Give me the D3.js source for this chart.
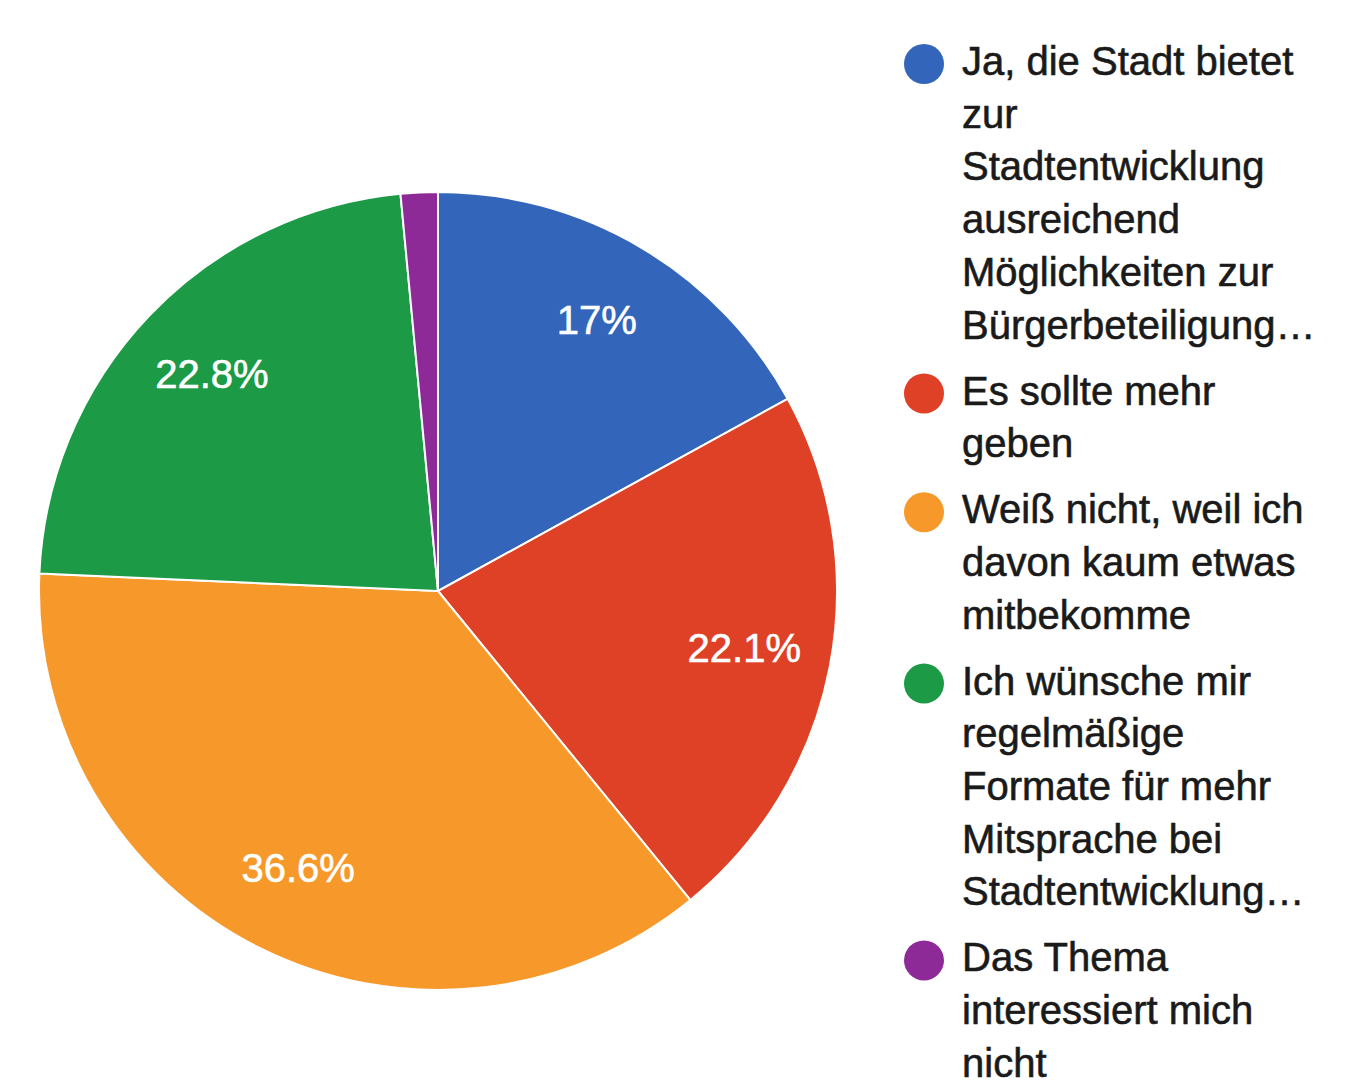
<!DOCTYPE html>
<html>
<head>
<meta charset="utf-8">
<script src="https://cdn.jsdelivr.net/npm/d3@7"></script>
<style>
  html, body { margin: 0; padding: 0; background: #ffffff; }
  svg { display: block; }
  text { font-family: "Liberation Sans", Arial, Helvetica, sans-serif; }
</style>
</head>
<body>
<svg id="chart" width="1359" height="1080"></svg>
<script>
// ---- data ----
const categories = [
  "Ja, die Stadt bietet zur Stadtentwicklung ausreichend Möglichkeiten zur Bürgerbeteiligung…",
  "Es sollte mehr geben",
  "Weiß nicht, weil ich davon kaum etwas mitbekomme",
  "Ich wünsche mir regelmäßige Formate für mehr Mitsprache bei Stadtentwicklung…",
  "Das Thema interessiert mich nicht"
];
const values = [17.0, 22.1, 36.6, 22.8, 1.5];
const sliceLabels = ["17%", "22.1%", "36.6%", "22.8%", ""];
const legendLines = [
  ["Ja, die Stadt bietet", "zur", "Stadtentwicklung", "ausreichend", "Möglichkeiten zur", "Bürgerbeteiligung…"],
  ["Es sollte mehr", "geben"],
  ["Weiß nicht, weil ich", "davon kaum etwas", "mitbekomme"],
  ["Ich wünsche mir", "regelmäßige", "Formate für mehr", "Mitsprache bei", "Stadtentwicklung…"],
  ["Das Thema", "interessiert mich", "nicht"]
];
const colors = ["#3366bb", "#de4125", "#f7982a", "#1c9a45", "#8e2a98"];

// ---- layout ----
const svg = d3.select("#chart");
const cx = 438, cy = 591, R = 399;

const pie = d3.pie().sort(null).value(d => d.value);
const arcs = pie(values.map((v, i) => ({ value: v, i })));
const arc = d3.arc().innerRadius(0).outerRadius(R);
const labelArc = d3.arc().innerRadius(312).outerRadius(312);

const g = svg.append("g").attr("transform", `translate(${cx},${cy})`);
g.selectAll("path.slice")
  .data(arcs)
  .join("path")
  .attr("class", "slice")
  .attr("d", arc)
  .attr("fill", d => colors[d.data.i])
  .attr("stroke", "#ffffff")
  .attr("stroke-width", 2);

g.selectAll("text.lbl")
  .data(arcs)
  .join("text")
  .attr("class", "lbl")
  .attr("transform", d => `translate(${labelArc.centroid(d)})`)
  .attr("text-anchor", "middle")
  .attr("dy", "0.3em")
  .attr("fill", "#ffffff")
  .attr("stroke", "#ffffff")
  .attr("stroke-width", 0.6)
  .attr("font-size", 40)
  .text(d => sliceLabels[d.data.i]);

// ---- legend ----
const lineH = 52.7, itemGap = 66;
const legend = svg.append("g");
let y = 75;
categories.forEach((c, i) => {
  const item = legend.append("g");
  item.append("circle")
    .attr("cx", 924).attr("cy", y - 11).attr("r", 20)
    .attr("fill", colors[i]);
  const t = item.append("text")
    .attr("x", 962).attr("y", y)
    .attr("font-size", 40)
    .attr("fill", "#1a1a1a")
    .attr("stroke", "#1a1a1a")
    .attr("stroke-width", 0.6);
  legendLines[i].forEach((ln, k) => {
    t.append("tspan").attr("x", 962).attr("y", y + k * lineH).text(ln);
  });
  y += (legendLines[i].length - 1) * lineH + itemGap;
});
</script>
</body>
</html>
